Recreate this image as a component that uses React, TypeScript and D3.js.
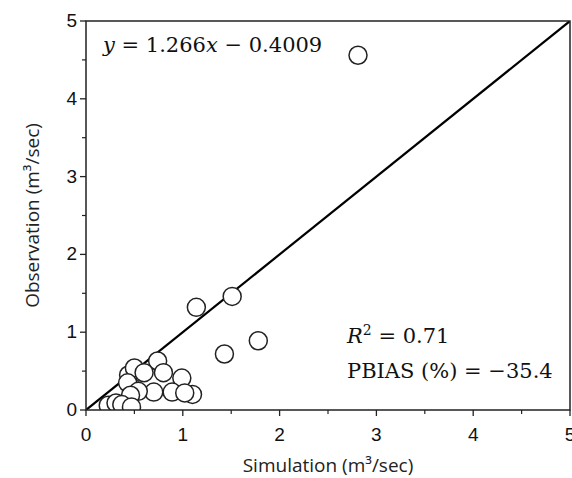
import React from "react";
import * as d3 from "d3";

const simulation = [2.81, 1.14, 1.51, 1.78, 1.43, 0.74, 0.80, 0.99, 0.89, 0.70, 1.10, 1.02, 0.54, 0.44, 0.50, 0.60, 0.43, 0.54, 0.46, 0.23, 0.31, 0.37, 0.47];
const observation = [4.56, 1.32, 1.46, 0.89, 0.72, 0.63, 0.48, 0.41, 0.23, 0.23, 0.20, 0.22, 0.49, 0.45, 0.54, 0.48, 0.35, 0.24, 0.19, 0.06, 0.09, 0.07, 0.04];
const majorTicks = [0, 1, 2, 3, 4, 5];
const minorTicks = [0.5, 1.5, 2.5, 3.5, 4.5];
const equationText = ["y", " = 1.266", "x", " − 0.4009"];

export default function App() {
  const W = 572, H = 478;
  const left = 86, right = 570, top = 21, bottom = 410;
  const x = d3.scaleLinear().domain([0, 5]).range([left, right]);
  const y = d3.scaleLinear().domain([0, 5]).range([bottom, top]);
  const sans = "Arial, 'Liberation Sans', sans-serif";
  const titleFont = "'Open Sans', 'Noto Sans', sans-serif";
  const serif = "'DejaVu Serif', 'Liberation Serif', serif";
  const pts = simulation.map((s, i) => ({ s, o: observation[i] }));
  return (
    <svg width={W} height={H} style={{ position: "absolute", left: 0, top: 0, background: "#fff" }}>
      <defs>
        <clipPath id="plot">
          <rect x={left} y={top} width={right - left} height={bottom - top} />
        </clipPath>
      </defs>
      <g clipPath="url(#plot)">
        <line x1={x(0)} y1={y(0)} x2={x(5)} y2={y(5)} stroke="#000" strokeWidth={2.2} />
        {pts.map((p, i) => (
          <circle key={i} cx={x(p.s)} cy={y(p.o)} r={9} fill="#fff" stroke="#222" strokeWidth={1.5} />
        ))}
      </g>
      <path d={`M${left},${top}H${right}V${bottom}H${left}Z`} fill="none" stroke="#222" strokeWidth={1.5} />
      {majorTicks.map((t) => (
        <g key={"xt" + t}>
          <line x1={x(t)} x2={x(t)} y1={bottom} y2={bottom + 6} stroke="#222" strokeWidth={1.3} />
          <text x={x(t)} y={bottom + 31} textAnchor="middle" fontFamily={sans} fontSize={19} fill="#111">{t}</text>
        </g>
      ))}
      {minorTicks.map((t) => (
        <line key={"xm" + t} x1={x(t)} x2={x(t)} y1={bottom} y2={bottom + 4} stroke="#222" strokeWidth={1.2} />
      ))}
      {majorTicks.map((t) => (
        <g key={"yt" + t}>
          <line x1={left - 6} x2={left} y1={y(t)} y2={y(t)} stroke="#222" strokeWidth={1.3} />
          <text x={left - 9} y={y(t) + 6} textAnchor="end" fontFamily={sans} fontSize={19} fill="#111">{t}</text>
        </g>
      ))}
      {minorTicks.map((t) => (
        <line key={"ym" + t} x1={left - 4} x2={left} y1={y(t)} y2={y(t)} stroke="#222" strokeWidth={1.2} />
      ))}
      <text x={(left + right) / 2} y={472} textAnchor="middle" fontFamily={titleFont} fontSize={19} fill="#222">
        Simulation (m³/sec)
      </text>
      <text transform={`translate(39, ${(top + bottom) / 2}) rotate(-90)`} textAnchor="middle" fontFamily={titleFont} fontSize={19} fill="#222">
        Observation (m³/sec)
      </text>
      <text x={103} y={52} fontFamily={serif} fontSize={21} fill="#111">
        {equationText.map((t, i) => (
          <tspan key={i} fontStyle={i % 2 === 0 ? "italic" : "normal"}>{t}</tspan>
        ))}
      </text>
      <text x={347} y={343} fontFamily={serif} fontSize={21} fill="#111">
        <tspan fontStyle="italic">R</tspan>
        <tspan dy={-8} fontSize={14}>2</tspan>
        <tspan dy={8}> = 0.71</tspan>
      </text>
      <text x={347} y={378} fontFamily={serif} fontSize={21} fill="#111">
        PBIAS (%) = −35.4
      </text>
    </svg>
  );
}
